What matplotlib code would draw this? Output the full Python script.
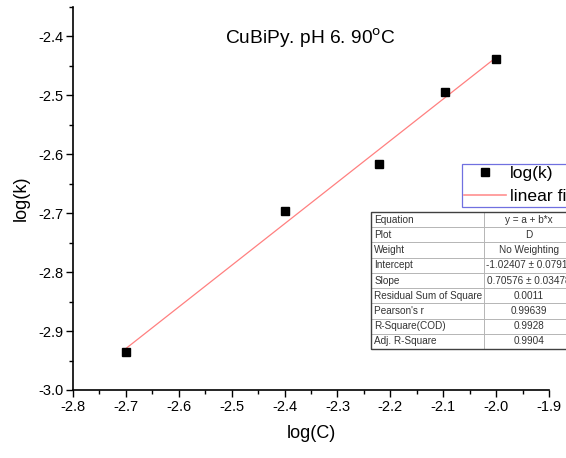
import matplotlib
matplotlib.use("Agg")
import matplotlib.pyplot as plt
import numpy as np
from matplotlib.lines import Line2D

plt.rcParams['font.family'] = ['Liberation Sans', 'DejaVu Sans']

# Measured data
log_c = [-2.7, -2.4, -2.222, -2.097, -2.0]
log_k = [-2.936, -2.696, -2.616, -2.495, -2.439]

# Linear fit results
intercept = -1.02407
slope = 0.70576
fit_rows = [
    ("Equation", "y = a + b*x"),
    ("Plot", "D"),
    ("Weight", "No Weighting"),
    ("Intercept", "-1.02407 \u00b1 0.07917"),
    ("Slope", "0.70576 \u00b1 0.03478"),
    ("Residual Sum of Square", "0.0011"),
    ("Pearson's r", "0.99639"),
    ("R-Square(COD)", "0.9928"),
    ("Adj. R-Square", "0.9904"),
]

W, H = 566, 458
fig = plt.figure(figsize=(W / 100, H / 100), dpi=100)
ax = fig.add_axes([73 / W, (H - 390) / H, (549 - 73) / W, (390 - 7) / H])

ax.plot(log_c, log_k, linestyle='none', marker='s', markersize=5.6,
        color='black', zorder=3)
xf = np.array([min(log_c), max(log_c)])
ax.plot(xf, intercept + slope * xf, color='#ff8080', linewidth=0.9, zorder=2)

ax.set_xlim(-2.8, -1.9)
ax.set_ylim(-3.0, -2.35)
ax.set_xticks(np.arange(-2.8, -1.85, 0.1))
ax.set_yticks(np.arange(-3.0, -2.35, 0.1))
ax.set_xticklabels([f"{v:.1f}" for v in np.arange(-2.8, -1.85, 0.1)])
ax.set_yticklabels([f"{v:.1f}" for v in np.arange(-3.0, -2.35, 0.1)])
ax.xaxis.set_minor_locator(matplotlib.ticker.MultipleLocator(0.05))
ax.yaxis.set_minor_locator(matplotlib.ticker.MultipleLocator(0.05))
ax.tick_params(which='major', direction='out', length=5, width=1,
               labelsize=10.5, pad=2)
ax.tick_params(which='minor', direction='out', length=3, width=1)
for s in ('top', 'right'):
    ax.spines[s].set_visible(False)
for s in ('left', 'bottom'):
    ax.spines[s].set_linewidth(1.2)

ax.set_xlabel("log(C)", fontsize=13, labelpad=8)
ax.set_ylabel("log(k)", fontsize=13, labelpad=6)

ax.text(0.498, 0.918, r"CuBiPy. pH 6. 90$^{\mathrm{o}}$C", transform=ax.transAxes,
        ha='center', va='center', fontsize=13.8)

# Legend box
handles = [
    Line2D([], [], linestyle='none', marker='s', markersize=6, color='black'),
    Line2D([], [], color='#ff9090', linewidth=1.2),
]
leg = fig.legend(handles, ["log(k)", "linear fit"], loc='upper left',
                 bbox_to_anchor=(461.5 / W, (H - 164) / H), fontsize=12.6,
                 frameon=True, fancybox=False, edgecolor='#7070e0',
                 framealpha=1, handlelength=2.4, borderpad=0.12,
                 labelspacing=0.45, handletextpad=0.25, borderaxespad=0)
leg.get_frame().set_linewidth(0.9)

# Fit statistics table
tax = fig.add_axes([371 / W, (H - 349) / H, (574 - 371) / W, (349 - 212) / H])
tax.axis('off')
tbl = tax.table(cellText=[list(r) for r in fit_rows], bbox=[0, 0, 1, 1],
                colWidths=[113 / 203, 90 / 203], edges='closed')
tbl.auto_set_font_size(False)
for (r, c), cell in tbl.get_celld().items():
    cell.set_edgecolor('#b0b0b0')
    cell.set_linewidth(0.6)
    cell.get_text().set_fontsize(7.2)
    cell.get_text().set_color('#333333')
    if c == 0:
        cell.get_text().set_ha('left')
        cell.PAD = 0.03
    else:
        cell.get_text().set_ha('center')
        cell._loc = 'center'
tax.add_patch(plt.Rectangle((0, 0), 1, 1, transform=tax.transAxes, fill=False,
                            edgecolor='#404040', linewidth=1.0, clip_on=False))

fig.savefig("out.png", dpi=100)
